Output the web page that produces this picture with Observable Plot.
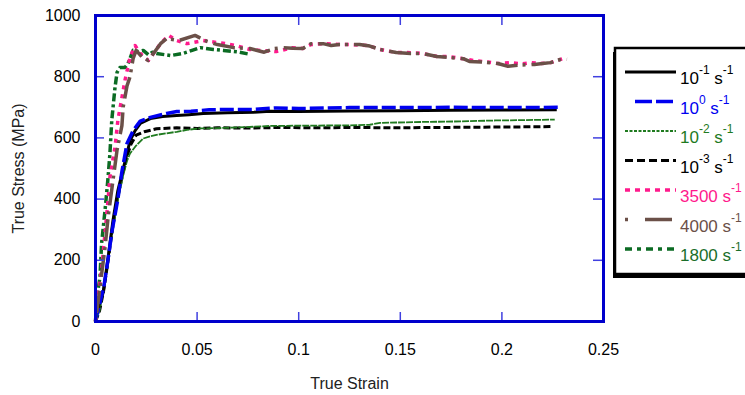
<!DOCTYPE html>
<html><head><meta charset="utf-8">
<script src="https://cdn.jsdelivr.net/npm/d3@7"></script>
<script src="https://cdn.jsdelivr.net/npm/@observablehq/plot@0.6"></script>
<style>
body{margin:0;background:#fff;}
svg{font-family:"Liberation Sans",Arial,sans-serif;}
</style>
</head><body><div id="chart"></div>
<script>
// ---- tick labels ----
const xTicks = [0, 0.05, 0.1, 0.15, 0.2, 0.25];
const yTicks = [0, 200, 400, 600, 800, 1000];

// ---- series: 10^-1 s^-1 ----
const s1Strain = [0,0.0007,0.0037,0.0062,0.0086,0.011,0.0136,0.0155,0.017,0.0195,0.022,0.027,0.033,0.040,0.046,0.053,0.065,0.078,0.086,0.10,0.125,0.15,0.175,0.20,0.227];
const s1Stress = [0,36,92,209,330,428,498,549,591,624,647,663,670,673,676,680,682,684,687,686,688,689,690,691,692];
// ---- 10^0 s^-1 ----
const s2Strain = [0,0.001,0.004,0.006,0.008,0.011,0.013,0.0155,0.0185,0.022,0.027,0.035,0.040,0.047,0.056,0.065,0.078,0.089,0.10,0.125,0.15,0.175,0.20,0.228];
const s2Stress = [0,30,110,195,290,400,490,582,624,655,667,680,686,687,692,693,693,698,696,699,699,700,699,700];
// ---- 10^-2 s^-1 ----
const s3Strain = [0,0.002,0.004,0.0071,0.0106,0.0137,0.0155,0.017,0.020,0.0235,0.027,0.030,0.035,0.040,0.045,0.051,0.060,0.070,0.086,0.10,0.125,0.135,0.14,0.16,0.18,0.197,0.21,0.226];
const s3Stress = [0,35,105,240,385,480,525,549,575,598,605,610,615,620,626,631,632,634,639,640,641,643,649,652,654,657,658,660];
// ---- 10^-3 s^-1 ----
const s4Strain = [0,0.002,0.004,0.006,0.0085,0.011,0.0135,0.0155,0.0175,0.020,0.024,0.030,0.040,0.050,0.060,0.075,0.090,0.110,0.125,0.150,0.165,0.190,0.210,0.225];
const s4Stress = [0,35,100,190,310,410,485,540,580,609,620,630,633,631,633,632,634,633,634,633,634,635,636,637];
// ---- 3500 s^-1 ----
const s5Strain = [0,0.0007,0.003,0.0062,0.0071,0.0096,0.011,0.013,0.0145,0.017,0.0195,0.022,0.026,0.032,0.036,0.040,0.045,0.053,0.064,0.069,0.076,0.081,0.089,0.097,0.102,0.106,0.112,0.120,0.125,0.134,0.140,0.148,0.153,0.161,0.168,0.173,0.181,0.187,0.193,0.198,0.204,0.210,0.214,0.219,0.224,0.230,0.232];
const s5Stress = [0,60,168,397,472,569,657,732,788,863,902,876,853,908,935,918,908,918,908,902,889,886,882,895,892,905,908,905,905,902,889,879,879,876,866,866,859,852,848,843,846,842,846,843,846,859,855];
// ---- 4000 s^-1 ----
const s6Strain = [0,0.0022,0.0047,0.0062,0.0086,0.0106,0.013,0.0136,0.0155,0.017,0.0185,0.020,0.023,0.026,0.032,0.035,0.041,0.049,0.055,0.060,0.068,0.076,0.083,0.088,0.092,0.097,0.102,0.106,0.112,0.116,0.120,0.125,0.130,0.135,0.140,0.148,0.155,0.161,0.168,0.175,0.181,0.184,0.190,0.198,0.203,0.208,0.216,0.220,0.224,0.230,0.232];
const s6Stress = [0,112,242,340,461,560,640,700,770,800,859,886,863,853,908,925,918,935,915,905,895,892,880,892,895,893,892,908,908,902,905,905,905,900,889,879,876,876,866,862,859,850,848,843,834,838,840,843,846,859,857];
// ---- 1800 s^-1 ----
const s7Strain = [0,0.0007,0.0022,0.003,0.0047,0.0062,0.0071,0.008,0.0096,0.0106,0.012,0.0145,0.016,0.0185,0.021,0.0235,0.026,0.028,0.030,0.037,0.043,0.0475,0.0515,0.058,0.063,0.070,0.076];
const s7Stress = [0,80,145,256,364,472,549,657,765,814,830,830,843,886,882,886,872,880,876,869,876,886,895,889,886,881,873];

// ---- legend labels ----
const legendBase = ["10","10","10","10","3500","4000","1800"];
const legendExp  = ["-1","0","-2","-3","","",""];

const strains = [s1Strain,s2Strain,s3Strain,s4Strain,s5Strain,s6Strain,s7Strain];
const stresses = [s1Stress,s2Stress,s3Stress,s4Stress,s5Stress,s6Stress,s7Stress];

// styles (not data)
const styles = [
  {stroke:"#000000", width:3,   dash:null,       legDash:null,       lx0:625},
  {stroke:"#0000f0", width:3.5, dash:"14,4",     legDash:"17,4",     lx0:635},
  {stroke:"#1f7a1f", width:1.8, dash:"7,1",      legDash:"3,1.5",    lx0:625},
  {stroke:"#000000", width:3,   dash:"7,3",      legDash:"8,4",      lx0:625},
  {stroke:"#ff1a8c", width:3.5, dash:"4,5",      legDash:"5,5",      lx0:625},
  {stroke:"#6b5048", width:3.5, dash:"3,6,22,5", legDash:"3,17,27,6",lx0:625},
  {stroke:"#0b6b23", width:3.5, dash:"8,3,3,3",  legDash:"7,5,4,5",  lx0:625}
];
const textColors = ["#000000","#0000f0","#1f7a1f","#000000","#ff1a8c","#6b5048","#1a6e2a"];

const W = 745, H = 395, mL = 95, mR = 142, mT = 15, mB = 74;
const pw = W - mL - mR, ph = H - mT - mB;

const lineMarks = strains.map((xs, i) => Plot.line(
  xs.map((x, j) => ({strain: x, stress: stresses[i][j]})),
  {x: "strain", y: "stress", stroke: styles[i].stroke, strokeWidth: styles[i].width,
   strokeDasharray: styles[i].dash, strokeLinecap: "butt", strokeLinejoin: "round"}
));
// draw order: quasi-static first then dynamic
const order = [3,2,0,1,6,4,5];

const tickColor = "#4040e0";
const svg = Plot.plot({
  width: W, height: H,
  marginLeft: mL, marginRight: mR, marginTop: mT, marginBottom: mB,
  style: {fontFamily: "Liberation Sans, Arial, sans-serif", fontSize: "16px", color: "#000", background: "#fff"},
  x: {domain: [0, 0.25]},
  y: {domain: [0, 1000]},
  marks: [
    ...order.map(i => lineMarks[i]),
    // inward ticks
    Plot.tickX(xTicks.slice(1, -1), {x: d => d, stroke: tickColor, strokeWidth: 1.5, insetTop: ph - 9}),
    Plot.tickX(xTicks.slice(1, -1), {x: d => d, stroke: tickColor, strokeWidth: 1.5, insetBottom: ph - 10}),
    Plot.tickY(yTicks.slice(1, -1), {y: d => d, stroke: tickColor, strokeWidth: 1.5, insetRight: pw - 9}),
    Plot.tickY(yTicks.slice(1, -1), {y: d => d, stroke: tickColor, strokeWidth: 1.5, insetLeft: pw - 10}),
    Plot.frame({stroke: "#0000cc", strokeWidth: 3}),
    Plot.axisX({ticks: xTicks, tickSize: 0, tickPadding: 22, tickFormat: d => String(d), fontSize: 16, label: null}),
    Plot.axisY({ticks: yTicks, tickSize: 0, tickPadding: 15, tickFormat: d => String(d), fontSize: 16, label: null}),
    Plot.text(["True Strain"], {frameAnchor: "bottom", lineAnchor: "middle", textAnchor: "middle", dy: 62, fontSize: 16, fill: "#222"}),
    Plot.text(["True Stress (MPa)"], {frameAnchor: "left", textAnchor: "middle", lineAnchor: "middle", rotate: -90, dx: -77, fontSize: 16, fill: "#222"})
  ]
});

// ---- legend ----
const g = d3.select(svg).append("g").attr("text-anchor", "start");
const boxX = 615, boxY = 48, boxW = 140, boxH = 226;
g.append("rect").attr("x", boxX - 2).attr("y", boxY + 4).attr("width", boxW).attr("height", boxH).attr("fill", "#000");
g.append("rect").attr("x", boxX).attr("y", boxY).attr("width", boxW).attr("height", boxH)
  .attr("fill", "#fff").attr("stroke", "#000").attr("stroke-width", 2.5);
legendBase.forEach((b, i) => {
  const yy = 72 + i * 29.5;
  const st = styles[i];
  g.append("line").attr("x1", st.lx0).attr("x2", 676).attr("y1", yy).attr("y2", yy)
    .attr("stroke", st.stroke).attr("stroke-width", Math.max(st.width, 1.5))
    .attr("stroke-dasharray", st.legDash).attr("stroke-linecap", "butt");
  const t = g.append("text").attr("x", 680).attr("y", yy + 12).attr("fill", textColors[i])
    .attr("font-size", 17).attr("text-anchor", "start");
  t.append("tspan").text(b);
  if (legendExp[i] !== "") {
    t.append("tspan").attr("dy", -10).attr("font-size", 12).text(legendExp[i]);
    t.append("tspan").attr("dy", 10).attr("font-size", 17).text("\u00a0s");
  } else {
    t.append("tspan").text("\u00a0s");
  }
  t.append("tspan").attr("dy", -10).attr("font-size", 12).text("-1");
});

document.getElementById("chart").appendChild(svg);
</script>
</body></html>
